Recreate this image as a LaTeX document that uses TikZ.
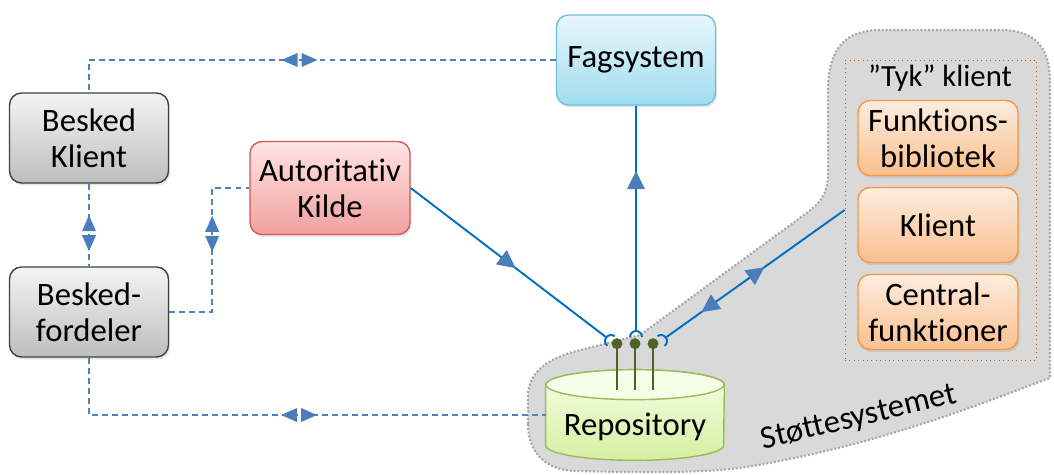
\documentclass[tikz,border=0pt]{standalone}
\usepackage{fontspec}
\setmainfont{Carlito}[Ligatures=NoCommon]
\usetikzlibrary{calc,positioning,shadows}

\definecolor{line-blue}{RGB}{0,112,192}
\definecolor{tip-blue}{RGB}{74,126,187}
\definecolor{dash-blue}{RGB}{79,129,189}
\definecolor{fs-top}{RGB}{232,247,252}
\definecolor{fs-bottom}{RGB}{160,220,240}
\definecolor{fs-border}{RGB}{110,190,220}
\definecolor{grey-top}{RGB}{244,244,244}
\definecolor{grey-bottom}{RGB}{190,190,190}
\definecolor{red-top}{RGB}{255,228,228}
\definecolor{red-bottom}{RGB}{242,160,160}
\definecolor{red-border}{RGB}{205,90,90}
\definecolor{or-top}{RGB}{253,236,222}
\definecolor{or-bottom}{RGB}{250,192,143}
\definecolor{or-border}{RGB}{247,150,70}
\definecolor{repo-top}{RGB}{246,253,232}
\definecolor{repo-bottom}{RGB}{212,240,160}
\definecolor{repo-border}{RGB}{155,187,89}
\definecolor{support-fill}{RGB}{217,217,217}
\definecolor{support-border}{RGB}{166,166,166}
\definecolor{tyk-border}{RGB}{197,90,17}
\definecolor{pin-green}{RGB}{79,98,40}

\tikzset{
	sketch/.style = {
		x = 0.02cm,
		y = 0.02cm,
		node distance = 1.74cm,
		font = \fontsize{18.6}{20.4}\selectfont
	},
	sysnode/.style = {
		rectangle,
		rounded corners = 0.24cm,
		draw,
		line width = 0.8pt,
		align = center,
		inner sep = 0pt,
		minimum width = 3.18cm,
		minimum height = 1.8cm,
		drop shadow = {opacity = 0.2, shadow xshift = 0.03cm, shadow yshift = -0.05cm}
	},
	blue-node/.style = {
		sysnode,
		draw = fs-border,
		top color = fs-top,
		bottom color = fs-bottom
	},
	grey-node/.style = {
		sysnode,
		draw = black!75,
		top color = grey-top,
		bottom color = grey-bottom
	},
	red-node/.style = {
		sysnode,
		draw = red-border,
		top color = red-top,
		bottom color = red-bottom,
		minimum width = 3.2cm,
		minimum height = 1.86cm
	},
	orange-node/.style = {
		sysnode,
		draw = or-border,
		top color = or-top,
		bottom color = or-bottom,
		minimum width = 3.2cm,
		minimum height = 1.5cm
	},
	repo-frame/.style = {
		rectangle,
		inner sep = 0pt,
		minimum width = 3.56cm,
		minimum height = 1.8cm
	},
	repo-body/.style = {
		draw = repo-border,
		line width = 0.8pt,
		top color = repo-top,
		bottom color = repo-bottom
	},
	repo-lid/.style = {
		draw = repo-border,
		line width = 0.8pt,
		fill = repo-top
	},
	support/.style = {
		draw = support-border,
		fill = support-fill,
		line width = 1.2pt,
		dash pattern = on 1.1pt off 1.1pt
	},
	tyk-box/.style = {
		draw = tyk-border,
		line width = 0.5pt,
		dotted,
		minimum width = 3.82cm,
		minimum height = 6cm
	},
	pin/.style = {
		draw = pin-green,
		line width = 1pt
	},
	ball/.style = {
		circle,
		fill = pin-green,
		inner sep = 0pt,
		minimum size = 0.22cm
	},
	line-solid/.style = {
		draw = line-blue,
		line width = 1.1pt
	},
	dash-line/.style = {
		draw = dash-blue,
		line width = 0.8pt,
		dash pattern = on 3.4pt off 2.3pt
	},
	tip-fwd/.pic = {
		\fill[tip-blue] (-9,-9) -- (9,0) -- (-9,9) -- cycle;
	},
	tip-back/.pic = {
		\fill[tip-blue] (9,-9) -- (-9,0) -- (9,9) -- cycle;
	},
	tip-both/.pic = {
		\fill[tip-blue] (2,-7) -- (18,0) -- (2,7) -- cycle;
		\fill[tip-blue] (-2,-7) -- (-18,0) -- (-2,7) -- cycle;
	}
}

\begin{document}
\begin{tikzpicture}[sketch]
	\useasboundingbox (0,0) rectangle (1054,474);

	\path[support] (528,50) -- (528,78) .. controls (528,102) and (548,116) .. (580,124)
		-- (640,139) -- (808,262) .. controls (824,274) and (828,284) .. (828,302)
		-- (828,384) .. controls (828,426) and (846,444) .. (880,444)
		-- (1000,444) .. controls (1036,444) and (1050,426) .. (1050,392)
		-- (1050,96) .. controls (990,74) and (880,28) .. (740,6)
		.. controls (690,0) and (620,2) .. (575,3)
		.. controls (545,4) and (528,22) .. (528,50) -- cycle;
	\node[rotate = 13.5] (st) at (859,56) {Støttesystemet};

	\node[tyk-box] (tyk) at (940.5,264) {};
	\node[font = \fontsize{17.5}{19}\selectfont] (tyk-label) at (940,396) {”Tyk” klient};
	\node[orange-node] (fb) at (938,336) {Funktions-\\bibliotek};
	\node[orange-node, below of = fb] (kl) {Klient};
	\node[orange-node, below of = kl] (cf) {Central-\\funktioner};

	\node[blue-node] (fs) at (636,414) {Fagsystem};
	\node[grey-node] (bk) at (89,336) {Besked\\Klient};
	\node[grey-node, below of = bk, node distance = 3.48cm] (bf) {Besked-\\fordeler};
	\node[red-node] (ak) at (330,286) {Autoritativ\\Kilde};

	\node[repo-frame] (repo) at (635,59) {};
	\path[repo-body] ([yshift=-0.3cm]repo.north west) -- ([yshift=0.3cm]repo.south west)
		arc[start angle=180, end angle=360, x radius=1.78cm, y radius=0.3cm]
		-- ([yshift=-0.3cm]repo.north east)
		arc[start angle=0, end angle=180, x radius=1.78cm, y radius=0.3cm] -- cycle;
	\path[repo-lid] ([yshift=-0.3cm]repo.north) ellipse [x radius=1.78cm, y radius=0.3cm];
	\node (repo-label) at (635,47) {Repository};

	\foreach \dx/\n in {-18/a, 0/b, 18/c} {
		\draw[pin] ([xshift=\dx*0.02cm, yshift=-0.4cm]repo.north) -- ([xshift=\dx*0.02cm, yshift=0.52cm]repo.north);
		\node[ball] (ball-\n) at ([xshift=\dx*0.02cm, yshift=0.52cm]repo.north) {};
	}

	\coordinate (cup-a) at (611,133);
	\coordinate (cup-b) at (636,137);
	\coordinate (cup-c) at (661,133);
	\coordinate (sock-a) at ([shift={(142:0.12cm)}]cup-a);
	\coordinate (sock-b) at ([shift={(90:0.12cm)}]cup-b);
	\coordinate (sock-c) at ([shift={(36:0.12cm)}]cup-c);
	\draw[line-solid] ([shift={(52:0.12cm)}]cup-a) arc[start angle=52, end angle=232, radius=0.12cm];
	\draw[line-solid] ([shift={(0:0.12cm)}]cup-b) arc[start angle=0, end angle=180, radius=0.12cm];
	\draw[line-solid] ([shift={(-54:0.12cm)}]cup-c) arc[start angle=-54, end angle=126, radius=0.12cm];

	\draw[line-solid] (ak.east) -- pic[pos=.5, sloped]{tip-fwd} (sock-a);
	\draw[line-solid] (sock-b) -- pic[pos=.67, sloped]{tip-fwd} (fs.south);
	\draw[line-solid] (sock-c) -- pic[pos=.24, sloped]{tip-back} pic[pos=.51, sloped]{tip-fwd} (tyk.west);

	\draw[dash-line] (fs.west) -| pic[pos=.2745]{tip-both} (bk.north);
	\draw[dash-line] (bk.south) -- pic[pos=.6, rotate=90]{tip-both} (bf.north);
	\draw[dash-line] (bf.east) -- ++(43,0) |- pic[pos=.315, rotate=90]{tip-both} (ak.west);
	\draw[dash-line] (bf.south) |- pic[pos=.73]{tip-both} (repo.west);
\end{tikzpicture}
\end{document}
